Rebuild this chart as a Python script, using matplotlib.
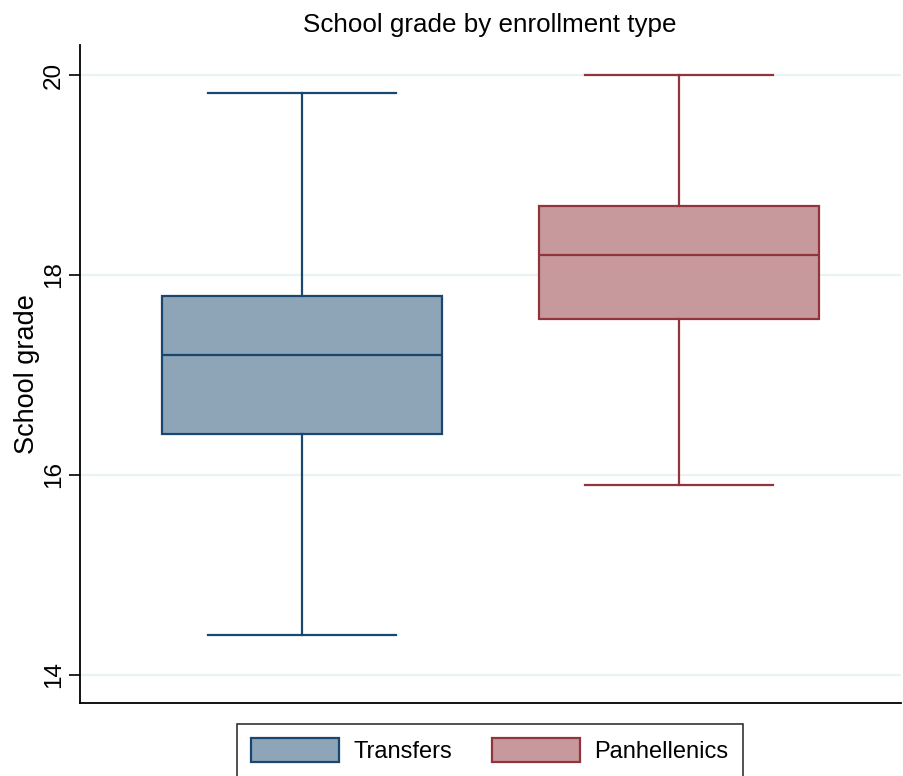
import matplotlib
matplotlib.use("Agg")
import matplotlib.pyplot as plt
import matplotlib.patches as mpatches

plt.rcParams['font.family'] = ['Liberation Sans', 'DejaVu Sans']

# box statistics
groups = ["Transfers", "Panhellenics"]
whislo = [14.40, 15.90]
q1 = [16.41, 17.56]
med = [17.20, 18.20]
q3 = [17.79, 18.69]
whishi = [19.82, 20.00]

edge_colors = ["#1a476f", "#90353b"]
fill_colors = ["#8ea5b8", "#c8999c"]

yticks = [14, 16, 18, 20]

fig = plt.figure(figsize=(9.04, 7.76), dpi=100)
ax = fig.add_axes([80 / 904, 1 - 703 / 776, (901 - 80) / 904, (703 - 45) / 776])

positions = [1, 2]
for i, g in enumerate(groups):
    s = dict(label=g, whislo=whislo[i], q1=q1[i], med=med[i],
             q3=q3[i], whishi=whishi[i], fliers=[])
    ec = edge_colors[i]
    ax.bxp([s], positions=[positions[i]], widths=0.745, patch_artist=True,
           showfliers=False, capwidths=0.5,
           boxprops=dict(facecolor=fill_colors[i], edgecolor=ec, linewidth=1.6),
           medianprops=dict(color=ec, linewidth=1.6),
           whiskerprops=dict(color=ec, linewidth=1.6),
           capprops=dict(color=ec, linewidth=1.6), zorder=3)

ax.set_xlim(0.411, 2.589)
ax.set_ylim(13.72, 20.3)
ax.set_xticks([])
ax.set_yticks(yticks)
ax.set_yticklabels([str(t) for t in yticks], rotation=90, va='center', fontsize=17.5)
ax.tick_params(axis='y', length=8, width=1.2, pad=3)
ax.grid(axis='y', color='#eaf2f3', linewidth=1.6, zorder=0)
ax.set_axisbelow(True)
for sp in ['top', 'right']:
    ax.spines[sp].set_visible(False)
for sp in ['left', 'bottom']:
    ax.spines[sp].set_linewidth(1.3)
ax.set_ylabel('School grade', fontsize=19.5, labelpad=2)

fig.text(490 / 904, 1 - 32 / 776, 'School grade by enrollment type',
         ha='center', va='baseline', fontsize=18.7)

handles = [mpatches.Patch(facecolor=fill_colors[i], edgecolor=edge_colors[i],
                          linewidth=1.6, label=groups[i]) for i in range(2)]
leg = fig.legend(handles=handles, loc='upper center', ncol=2,
                 bbox_to_anchor=(490 / 904, 1 - 724 / 776), fontsize=17,
                 frameon=True, fancybox=False, edgecolor='black',
                 handlelength=3.7, handleheight=1.19, handletextpad=0.62,
                 columnspacing=1.7, borderpad=0.6, borderaxespad=0)
leg.get_frame().set_linewidth(1.2)

fig.savefig('out.png', dpi=100, facecolor='white')
